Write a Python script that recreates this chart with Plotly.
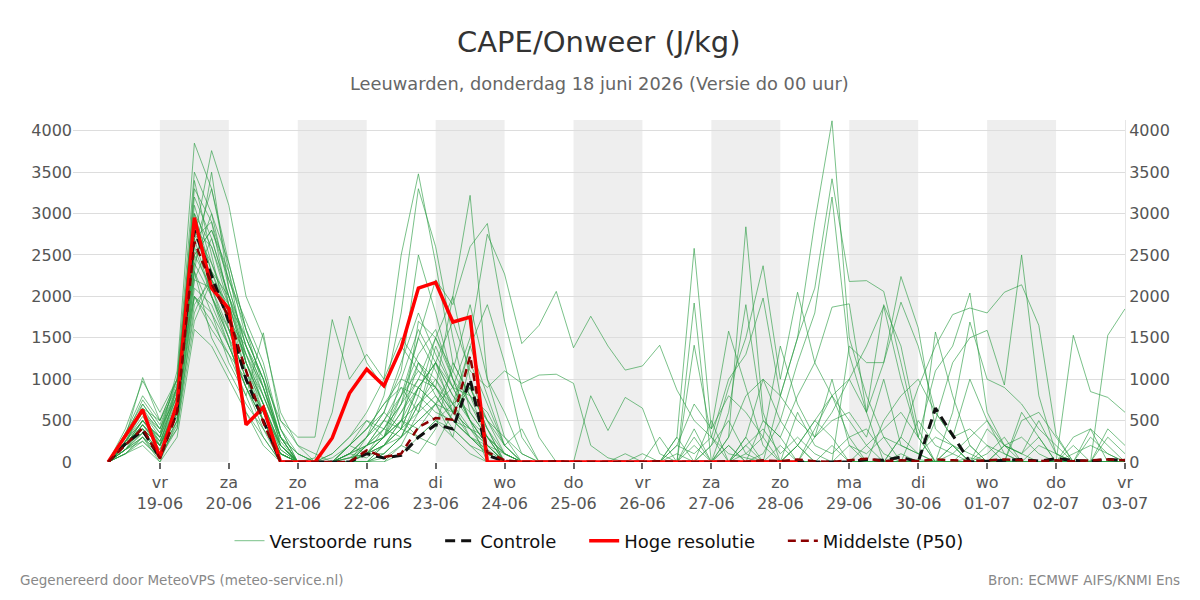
import plotly.graph_objects as go
import pandas as pd

# ---------------- data ----------------
times = pd.date_range("2026-06-18 06:00", periods=60, freq="6h")

tick_days = ["2026-06-19", "2026-06-20", "2026-06-21", "2026-06-22", "2026-06-23",
             "2026-06-24", "2026-06-25", "2026-06-26", "2026-06-27", "2026-06-28",
             "2026-06-29", "2026-06-30", "2026-07-01", "2026-07-02", "2026-07-03"]
tick_labels = ["vr<br>19-06", "za<br>20-06", "zo<br>21-06", "ma<br>22-06", "di<br>23-06",
               "wo<br>24-06", "do<br>25-06", "vr<br>26-06", "za<br>27-06", "zo<br>28-06",
               "ma<br>29-06", "di<br>30-06", "wo<br>01-07", "do<br>02-07", "vr<br>03-07"]
shade_starts = ["2026-06-19", "2026-06-21", "2026-06-23", "2026-06-25",
                "2026-06-27", "2026-06-29", "2026-07-01"]

hres = [0, 320, 630, 60, 710, 2950, 2100, 1850, 450, 660, 0, 0,
        0, 290, 830, 1120, 920, 1380, 2100, 2170, 1690, 1750, 0,
        0, 0, 0, 0, 0, 0, 0, 0, 0, 0, 0, 0, 0, 0, 0, 0, 0, 0]

p50 = [0, 200, 410, 40, 600, 2660, 2150, 1750, 1100, 480, 0, 0,
       0, 0, 0, 140, 60, 100, 420, 530, 510, 1280, 120, 20,
       0, 0, 10, 0, 0, 0, 0, 0, 10, 0, 0, 0, 10, 0, 20, 10,
       30, 10, 0, 20, 40, 10, 20, 10, 30, 20, 10, 20, 30, 20, 10, 20, 10, 20, 30, 20]

control = [0, 220, 380, 50, 620, 2800, 2250, 1700, 1000, 500, 0, 0,
           0, 0, 0, 100, 50, 80, 300, 450, 400, 1000, 80, 10,
           0, 0, 0, 0, 0, 0, 0, 0, 0, 0, 0, 0, 0, 0, 0, 0,
           0, 0, 0, 0, 30, 20, 60, 0, 650, 330, 0, 10, 20, 30, 10, 40, 20, 10, 30, 20]

m01 = [0,300,600,200,900,3000,2600,2000,1200,600,100,0, 0,50,200,400,600,1200,1800,1300,900,1500,2750,2270,1430,1650,2060, 1380,1760,1400,1110,1160,1410,870,500,300,100,50,0,20,10,0,0, 0,0,0,0,30,0,0,50,0,20,0,0,0,0,10,0,0]
m02 = [0,250,500,300,1100,3850,3300,2400,1600,900,300,0, 0,0,0,0,50,200,100,400,1200,800,300,100,0,0,0, 0,0,0,0,0,0,100,0,500,0,300,1000,800,1500,2100,3420, 2180,2190,2060,1200,300,0,100,0,0,200,0,0,0,0,0,0,0]
m03 = [0,200,450,150,700,2700,3760,3100,2000,1500,600,200, 100,0,0,100,300,500,300,200,600,900,400,0,0,0,0, 0,0,0,0,0,0,0,300,0,0,0,100,500,200,0,0, 0,0,0,0,0,0,0,0,0,0,0,0,0,0,0,0,0]
m04 = [0,150,350,100,600,2300,3500,2100,1400,800,300,100, 0,100,300,600,1000,2500,3480,2400,1200,800,500,300,0,0,0, 0,0,0,0,0,0,0,0,0,0,0,0,200,0,0,0, 0,0,0,0,0,0,0,0,0,0,0,0,0,0,0,0,0]
m05 = [0,200,700,400,800,3300,2900,2200,1700,1200,400,0, 0,0,100,300,800,1800,3300,2600,1500,600,300,0,0,0,0, 0,0,0,0,0,0,0,0,0,0,100,0,0,200,0,0, 0,0,0,0,0,0,0,0,0,0,0,0,0,0,0,0,0]
m06 = [0,100,300,0,500,2200,2100,1500,900,400,0,0, 0,0,0,200,400,300,800,1500,2000,3220,1000,300,100,0,0, 0,0,0,0,0,0,0,0,0,200,0,0,0,0,0,0, 0,0,0,0,0,0,0,0,0,0,0,0,0,0,0,0,0]
m07 = [0,300,1020,500,900,2500,2800,2300,1500,1000,300,0, 0,0,200,500,300,700,1500,2200,1900,2600,2880,1700,900,300,0, 0,0,0,0,0,0,0,0,0,0,0,0,0,0,0,0, 0,0,0,100,0,0,0,0,0,0,0,0,0,0,0,0,0]
m08 = [0,400,980,600,1000,2000,1800,1200,800,1560,500,300, 300,1720,1000,1300,1000,1500,1200,800,500,400,200,0,0,0,0, 0,0,0,0,0,0,0,0,0,0,0,0,0,0,0,0, 0,0,0,0,0,0,0,0,0,0,0,0,0,0,0,0,0]
m09 = [0,200,400,200,600,3400,2500,1600,1000,600,100,0, 50,600,1760,1200,900,1400,1100,900,700,400,100,0,0,0,0, 0,0,0,0,0,0,0,0,0,0,0,0,0,0,0,0, 0,0,0,0,0,0,0,0,0,0,0,0,0,0,0,0,0]
m10 = [0,150,300,100,500,1800,2300,2000,1300,700,200,0, 0,0,0,100,200,400,900,1200,600,300,200,0,0,0,0, 0,0,0,0,0,0,300,2580,400,1580,900,200,0,0,0,0, 0,0,0,0,0,0,0,0,0,0,0,0,0,0,0,0,0]
m11 = [0,250,500,300,900,2900,2300,1700,1100,500,100,0, 0,0,50,200,500,900,600,1400,900,500,200,100,0,0,0, 0,0,0,0,0,0,0,0,0,300,2840,600,0,0,0,200, 0,0,0,0,0,0,0,0,0,0,0,0,0,0,0,0,0]
m12 = [0,200,400,100,700,2600,2000,1500,600,200,0,0, 0,0,100,300,600,1100,2500,1800,1000,500,0,0,0,0,0, 0,0,0,0,0,0,0,0,200,900,1500,2370,1000,2050,1200,800, 300,0,0,0,0,0,0,0,0,0,0,0,0,0,0,0,0]
m13 = [0,300,600,300,800,2400,3000,2400,1600,1100,400,100, 0,0,0,100,300,500,1200,900,600,1400,1900,1200,300,0,0, 0,0,0,0,0,0,0,0,0,0,0,0,800,1500,2900,4120, 1500,800,300,0,0,0,0,0,0,0,0,0,0,0,0,0,0]
m14 = [0,150,250,50,400,1900,2200,1700,1400,900,200,0, 0,0,0,0,100,300,500,700,1100,1900,1000,600,100,0,0, 0,0,0,0,0,0,0,0,0,300,800,1000,500,1200,1800,3200, 1300,600,1900,1400,400,0,0,0,0,0,0,0,0,0,0,0,0]
m15 = [0,200,500,200,700,2800,2600,1900,1300,800,300,0, 0,0,200,400,700,1000,900,1200,800,600,300,0,0,0,0, 0,0,0,0,0,0,0,0,0,0,0,0,0,200,500,800, 1000,600,1200,2240,1620,400,200,0,0,0,0,0,0,0,0,0,0]
m16 = [0,250,650,350,900,3000,2300,1800,1100,600,150,0, 0,0,0,200,500,800,1300,1600,1000,700,400,100,0,0,0, 0,0,0,0,0,0,0,0,0,0,200,0,0,0,300,600, 1000,1400,1880,1000,300,1100,1400,2040,600,200,100,0,0,0,0,0,0]
m17 = [0,150,350,100,500,2100,1900,1400,900,500,100,0, 0,0,0,0,200,500,700,900,600,400,300,100,0,0,0, 0,0,0,0,0,0,0,0,0,0,0,0,0,0,0,0, 0,0,0,300,900,1400,1780,1860,1800,2050,2140,1650,330,0,0,0,0]
m18 = [0,200,500,250,800,2500,2100,1600,1000,500,100,0, 0,0,100,200,300,500,400,700,900,500,200,0,0,0,0, 0,0,0,0,0,0,0,0,0,0,0,0,0,0,0,0, 0,0,0,0,0,500,1200,1500,1590,930,2500,800,100,0,0,0,0]
m19 = [0,100,200,0,300,1600,1400,1000,600,300,0,0, 0,0,0,0,0,100,300,500,400,200,100,0,0,0,0, 0,0,0,0,0,0,0,0,0,0,0,0,0,0,0,0, 0,0,0,0,0,0,0,0,200,100,0,0,0,0,0,1530,1850]
m20 = [0,350,700,400,1000,3200,2700,2000,1500,1000,200,0, 0,0,0,100,400,700,1000,1500,1100,700,300,100,0,0,0, 0,0,0,0,0,0,0,0,0,0,0,0,0,0,0,0, 0,0,0,0,0,0,200,0,100,300,0,0,0,1530,850,780,600]
m21 = [0,100,250,50,450,2000,1700,1300,800,300,0,0, 0,0,100,50,200,400,900,1200,1700,1100,900,1100,950,1050,1060, 950,200,50,0,0,0,0,0,0,0,0,0,0,0,0,0, 0,0,0,0,0,0,0,0,0,0,0,0,0,0,0,0,0]
m22 = [0,200,450,200,650,2300,1500,1100,700,400,100,0, 0,0,0,0,100,300,700,1000,600,900,500,200,400,0,0, 0,800,380,780,650,100,0,0,0,0,0,0,0,0,0,0, 0,0,0,0,0,0,0,0,0,0,0,0,0,0,0,0,0]
m23 = [0,300,600,350,850,2900,2000,1400,900,500,100,0, 0,0,200,400,700,900,800,600,500,300,100,0,0,0,0, 0,0,0,0,0,300,0,1920,0,600,1900,500,300,800,1200,1870, 1910,600,0,0,0,0,0,0,0,0,0,0,0,0,0,0,0]
m24 = [0,250,550,250,750,2600,3300,2300,1200,700,150,0, 0,0,0,200,300,600,1000,900,500,300,150,0,0,0,0, 0,0,0,0,0,0,0,1410,300,1000,1300,1980,800,500,300,1000, 200,0,0,0,0,0,0,0,0,0,0,0,0,0,0,0,0]
m25 = [0,150,400,200,600,2200,2700,2000,1400,900,300,0, 0,0,50,100,300,800,1500,1100,700,900,400,0,0,0,0, 0,0,0,0,0,0,200,700,400,800,600,300,1400,700,300,500, 600,300,1000,200,100,0,0,0,0,0,0,0,0,0,0,0,0]
m26 = [0,300,750,450,950,3100,2400,1900,1200,800,250,0, 0,100,300,500,400,800,1100,900,2000,1000,500,100,0,0,0, 0,0,0,0,0,0,0,0,0,0,0,0,0,0,0,0, 0,0,500,800,1000,600,300,1000,500,200,100,500,100,0,0,0,0]
m27 = [0,200,350,150,550,2700,2900,1900,1500,1000,300,0, 0,0,100,300,500,400,600,800,500,300,100,0,0,0,0, 0,0,0,0,0,0,0,0,0,0,0,0,0,0,0,0, 1400,1200,1200,1930,1400,600,300,400,200,0,0,0,0,0,0,0,0]
m28 = [0,100,300,100,400,1700,2200,1900,1200,700,0,0, 0,0,0,0,0,200,600,1200,900,800,600,200,0,0,0, 0,0,0,0,0,0,0,0,0,0,0,0,0,0,0,0, 0,0,0,0,0,1570,800,200,0,0,500,600,300,0,400,0,0]
m29 = [0,250,400,200,700,2400,2000,1600,1000,600,200,0, 0,0,0,100,200,300,500,700,600,400,200,0,0,0,0, 0,0,0,0,0,0,0,0,0,0,0,0,0,0,0,0, 0,0,0,0,0,0,600,1690,1000,900,700,400,200,0,0,0,0]
m30 = [0,150,450,200,700,2800,2400,1800,1200,700,200,0, 0,0,0,0,200,500,900,700,400,200,0,0,0,0,0, 0,0,0,0,0,0,0,0,0,0,0,0,0,0,0,0, 0,0,0,0,0,0,0,0,0,0,0,0,0,300,400,200,0]
m31 = [0,200,500,300,800,2900,2200,1700,1300,900,300,100, 0,0,100,200,300,600,900,700,300,100,0,0,0,0,0, 0,0,0,100,0,0,200,100,300,0,200,400,100,300,100,0, 200,100,300,200,100,300,200,100,0,200,300,100,0,100,200,100,0]
m32 = [0,250,600,400,900,2300,1800,1400,900,500,100,0, 0,0,0,300,600,400,300,500,700,300,100,0,0,0,0, 0,0,0,0,100,0,300,0,200,500,100,300,0,600,200,100, 300,400,100,0,500,200,100,300,500,100,0,200,100,0,300,100,0]
m33 = [0,300,650,500,1000,3500,3000,2100,1400,1000,500,200, 0,0,200,100,300,1000,1600,1200,800,500,300,0,0,0,0, 0,0,0,0,0,0,0,400,0,200,0,500,300,0,400,800, 500,200,0,300,100,0,200,0,400,200,100,300,0,200,0,300,100]
m34 = [0,150,300,50,600,2000,1600,1300,1000,600,200,0, 0,0,0,100,100,300,700,500,300,1200,700,200,0,0,0, 0,0,0,0,0,0,0,200,0,0,300,0,0,200,500,300, 0,200,400,600,300,0,0,200,0,0,600,300,0,0,0,400,200]
m35 = [0,200,450,250,700,2500,2800,2200,1600,1100,400,0, 0,0,50,100,200,400,1700,1500,1000,500,200,0,0,0,0, 0,0,0,0,0,0,0,0,0,0,0,0,0,0,0,0, 0,0,0,0,0,0,0,0,0,0,0,0,0,0,0,0,0]
m36 = [0,350,800,500,1000,2700,2000,1500,1100,700,200,0, 0,0,0,200,400,700,1200,1000,700,1400,800,200,0,0,0, 0,0,0,0,0,0,0,0,0,0,0,0,0,0,0,0, 0,0,0,0,0,0,0,0,0,0,0,0,0,0,0,0,0]

members = [m01, m02, m03, m04, m05, m06, m07, m08, m09, m10, m11, m12,
           m13, m14, m15, m16, m17, m18, m19, m20, m21, m22, m23, m24,
           m25, m26, m27, m28, m29, m30, m31, m32, m33, m34, m35, m36]

for i, m in enumerate(members):
    assert len(m) == 60, (i + 1, len(m))

# ---------------- figure ----------------
FONT = "DejaVu Sans"
PAD = "\u00a0" * 4
fig = go.Figure()

for i, m in enumerate(members):
    fig.add_trace(go.Scatter(
        x=times, y=m, mode="lines", name="Verstoorde runs" + PAD,
        legendgroup="ens", showlegend=(i == 0),
        line=dict(color="rgba(40,155,65,0.62)", width=1),
        hoverinfo="skip"))

fig.add_trace(go.Scatter(x=times, y=control, mode="lines", name="Controle" + PAD,
                         line=dict(color="#111111", width=3, dash="10px,6px")))
fig.add_trace(go.Scatter(x=times[:len(hres)], y=hres, mode="lines", name="Hoge resolutie" + PAD,
                         line=dict(color="#ff0000", width=3.5)))
fig.add_trace(go.Scatter(x=times, y=p50, mode="lines", name="Middelste (P50)",
                         line=dict(color="#8b0000", width=2.5, dash="8px,5px")))
# invisible trace to activate the right axis
fig.add_trace(go.Scatter(x=[times[0]], y=[0], yaxis="y2", mode="lines",
                         showlegend=False, hoverinfo="skip",
                         line=dict(color="rgba(0,0,0,0)")))

shapes = []
for s in shade_starts:
    e = (pd.Timestamp(s) + pd.Timedelta(days=1)).strftime("%Y-%m-%d")
    shapes.append(dict(type="rect", xref="x", yref="paper", x0=s, x1=e, y0=0, y1=1,
                       fillcolor="#eeeeee", line=dict(width=0), layer="below"))

ymax = 4130
fig.update_layout(
    width=1200, height=600,
    margin=dict(l=73, r=75, t=120, b=138),
    paper_bgcolor="white", plot_bgcolor="white",
    font=dict(family=FONT, size=16, color="#555555"),
    shapes=shapes,
    showlegend=True,
    legend=dict(orientation="h", x=0.5, xanchor="center", y=-0.231, yanchor="middle",
                font=dict(size=18, color="#111111"), itemwidth=30, tracegroupgap=0),
    xaxis=dict(type="date", range=["2026-06-17 17:45", "2026-07-03 00:00"],
               tickvals=tick_days, ticktext=tick_labels,
               showgrid=False, zeroline=False, showline=False,
               ticks="outside", ticklen=6, tickcolor="#666666", tickwidth=2,
               tickfont=dict(size=16, color="#555555")),
    yaxis=dict(range=[0, ymax], tickvals=list(range(0, 4001, 500)),
               showgrid=True, gridcolor="#dddddd", gridwidth=1,
               zeroline=False, showline=False, ticks="",
               tickfont=dict(size=16, color="#555555")),
    yaxis2=dict(range=[0, ymax], overlaying="y", side="right",
                tickvals=list(range(0, 4001, 500)), showgrid=False, zeroline=False,
                showline=True, linecolor="#e6e6e6", linewidth=1, ticks="",
                tickfont=dict(size=16, color="#555555")),
    annotations=[
        dict(text="CAPE/Onweer (J/kg)", xref="paper", yref="paper", x=0.5, y=(462 - 42) / 342,
             xanchor="center", yanchor="middle", showarrow=False,
             font=dict(size=29, color="#333333", family=FONT)),
        dict(text="Leeuwarden, donderdag 18 juni 2026 (Versie do 00 uur)", xref="paper", yref="paper",
             x=0.5, y=(462 - 84) / 342, xanchor="center", yanchor="middle", showarrow=False,
             font=dict(size=17.8, color="#666666", family=FONT)),
        dict(text="Gegenereerd door MeteoVPS (meteo-service.nl)", xref="paper", yref="paper",
             x=(18 - 73) / 1052, y=-(580 - 462) / 342, xanchor="left", yanchor="middle",
             showarrow=False, font=dict(size=13.5, color="#888888", family=FONT)),
        dict(text="Bron: ECMWF AIFS/KNMI Ens", xref="paper", yref="paper",
             x=(1182 - 73) / 1052, y=-(580 - 462) / 342, xanchor="right", yanchor="middle",
             showarrow=False, font=dict(size=13.5, color="#888888", family=FONT)),
    ],
)

fig.write_html("out.html")
